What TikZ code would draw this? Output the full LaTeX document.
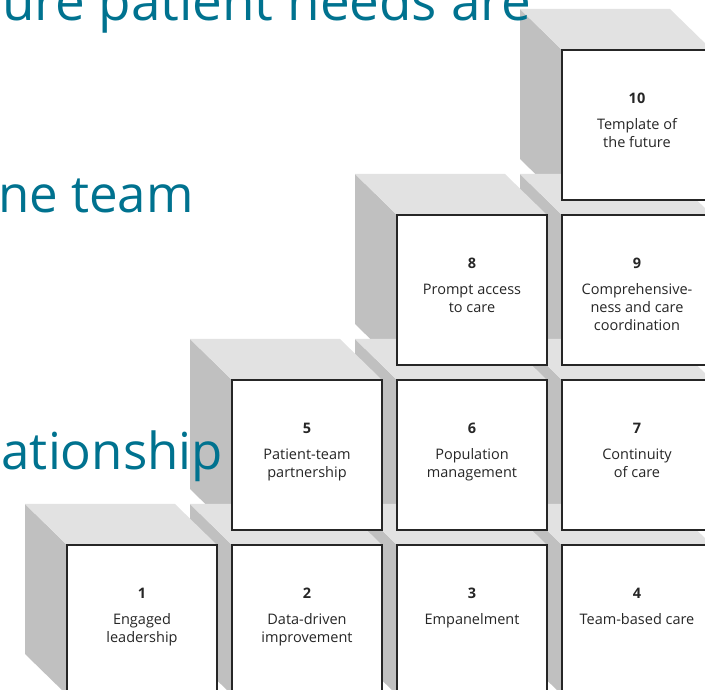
\documentclass[tikz,border=0pt]{standalone}
\usepackage{fontspec}
\setmainfont{Open Sans}
\usetikzlibrary{positioning, calc}
\pgfdeclarelayer{leftfaces}
\pgfdeclarelayer{topfaces}
\pgfsetlayers{leftfaces,topfaces,main}
\definecolor{headteal}{RGB}{0,114,143}
\definecolor{sidegrey}{RGB}{192,192,192}
\definecolor{topgrey}{RGB}{226,226,226}
\tikzset{block/.style={draw=black!85, line width=1.4pt, fill=white, minimum width=150pt, minimum height=150pt, inner sep=0pt, outer sep=0pt},
    blocktext/.style={anchor=north, align=center, inner sep=0pt, font=\fontsize{14.5}{18}\selectfont, text=black!85},
    bgtext/.style={anchor=base east, inner sep=0pt, font=\fontsize{51}{60}\selectfont, text=headteal}}

% grey side and top faces behind a front block
\newcommand{\blockfaces}[1]{%
    \begin{pgfonlayer}{leftfaces}
    \fill[sidegrey] (#1.north west) -- ++(-42pt,41pt) -- ($(#1.south west)+(-42pt,41pt)$) -- (#1.south west) -- cycle;
    \end{pgfonlayer}
    \begin{pgfonlayer}{topfaces}
    \fill[topgrey] (#1.north west) -- ++(-42pt,41pt) -- ($(#1.north east)+(-42pt,41pt)$) -- (#1.north east) -- cycle;
    \end{pgfonlayer}}

\begin{document}
\begin{tikzpicture}
    \useasboundingbox (0,0) rectangle (705pt,690pt);

    %Blocks
    \node[block](b1) at (142pt,70pt){};
    \node[block](b2)[right=15pt of b1]{};
    \node[block](b3)[right=15pt of b2]{};
    \node[block](b4)[right=15pt of b3]{};
    \node[block](b5)[above=15pt of b2]{};
    \node[block](b6)[above=15pt of b3]{};
    \node[block](b7)[above=15pt of b4]{};
    \node[block](b8)[above=15pt of b6]{};
    \node[block](b9)[above=15pt of b7]{};
    \node[block](b10)[above=15pt of b9]{};

    %Faces
    \foreach \n in {1,...,10} {\blockfaces{b\n}}

    %Labels
    \foreach \n/\txt in {1/{Engaged\\leadership}, 2/{Data-driven\\improvement}, 3/{Empanelment}, 4/{Team-based care},
        5/{Patient-team\\partnership}, 6/{Population\\management}, 7/{Continuity\\of care},
        8/{Prompt access\\to care}, 9/{Comprehensive-\\ness and care\\coordination}, 10/{Template of\\the future}}
        \node[blocktext](t\n) at ([yshift=-43pt]b\n.north){\textbf{\n}\\[8pt]\txt};

    %Background text
    \node[bgtext, font=\fontsize{53}{60}\selectfont](head1) at (531pt,669pt){ure patient needs are};
    \node[bgtext](head2) at (194pt,477pt){ne team};
    \node[bgtext](head3) at (223pt,220pt){ationship};

\end{tikzpicture}
\end{document}
